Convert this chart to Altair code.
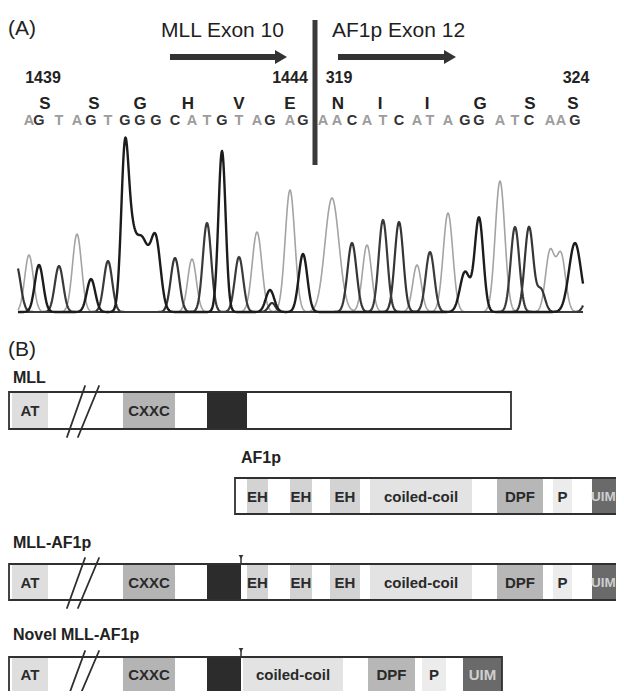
import altair as alt
import numpy as np
import pandas as pd

# ---------------- Panel A data ----------------
bases_left = list("AGTAGTGGGCATGTAGAG")
bases_right = list("AACATCATAGGATCAAG")
base_pos_left = [29, 39, 59, 77, 91, 108, 125, 140, 156, 175, 192, 207, 222, 239, 257, 270, 290, 303]
base_pos_right = [323, 337, 352, 367, 383, 399, 417, 430, 448, 465, 479, 500, 515, 529, 550, 561, 575]

aa_left = ["S", "S", "G", "H", "V", "E"]
aa_left_pos = [45, 94, 140, 188, 239, 290]
aa_right = ["N", "I", "I", "G", "S", "S"]
aa_right_pos = [338, 380, 427, 480, 530, 573]

residue_numbers = ["1439", "1444", "319", "324"]
residue_pos = [43, 290, 339, 576]

exon_titles = ["MLL Exon 10", "AF1p Exon 12"]
exon_title_x = [161, 332]
exon_arrow_start = [170, 338]
exon_arrow_end = [277, 446]
exon_arrow_head = [281, 450]

# chromatogram peaks per dye channel: centre, height (signal), width
peaks_A = [29, 77, 192, 257, 290, 332, 367, 417, 448, 500, 550, 561]
heights_A = [57, 78, 53, 80, 122, 114, 67, 47, 99, 131, 60, 57]
widths_A = [4.3, 4.5, 4.3, 4.8, 4.8, 7.0, 4.5, 4.3, 4.8, 4.8, 4.5, 4.5]

peaks_T = [59, 108, 207, 239, 383, 430, 515, 590]
heights_T = [46, 51, 89, 55, 92, 60, 85, 22]
widths_T = [4.2, 4.2, 4.2, 4.2, 4.3, 4.3, 4.3, 4.5]

peaks_G = [39, 91, 125, 132, 141, 156, 222, 270, 303, 465, 479, 575]
heights_G = [47, 33, 159, 30, 75, 64, 161, 22, 58, 40, 94, 69]
widths_G = [4.2, 4.2, 3.8, 3.5, 8.0, 4.8, 3.6, 4.2, 4.3, 5.0, 4.3, 6.0]

peaks_C = [16, 175, 272, 352, 399, 529, 541]
heights_C = [48, 54, 9, 69, 90, 85, 22]
widths_C = [4.5, 4.3, 3.5, 4.5, 4.3, 4.3, 4.0]

trace_start, trace_end, trace_baseline = 18, 583, 312

# ---------------- Panel B data ----------------
protein_names = ["MLL", "AF1p", "MLL-AF1p", "Novel MLL-AF1p"]
protein_label_x = [13, 241, 13, 13]
protein_label_y = [383, 463, 548, 640]
bar_start = [9, 235, 9, 9]
bar_end = [511, 626, 626, 502]
bar_top = [392, 478, 564, 657]
bar_bottom = [429, 514, 600, 692]

mll_part = [("AT", "AT", 12, 48), ("CXXC", "CXXC", 123, 175)]
af1p_part = [("EH", "EH", 247, 268), ("EH", "EH", 290, 312), ("EH", "EH", 330, 360),
             ("coiled-coil", "coiled-coil", 370, 472), ("DPF", "DPF", 497, 543),
             ("P", "P", 553, 572), ("UIM", "UIM", 592, 626)]
domains = {
    "MLL": mll_part + [("PHD", "", 207, 247)],
    "AF1p": af1p_part,
    "MLL-AF1p": mll_part + [("PHD", "", 207, 241)] + af1p_part,
    "Novel MLL-AF1p": mll_part + [("PHD", "", 207, 241),
                                  ("coiled-coil", "coiled-coil", 243, 343),
                                  ("DPF", "DPF", 368, 415), ("P", "P", 422, 446),
                                  ("UIM", "UIM", 463, 502)],
}
breakpoint_x = {"MLL-AF1p": 241, "Novel MLL-AF1p": 241}
break_marks_x = [(67, 85), (78, 99)]

# ---------------- styles ----------------
fill_of = {"AT": "#dedede", "CXXC": "#b4b4b4", "PHD": "#2c2c2c", "EH": "#d3d3d3",
           "coiled-coil": "#e3e3e3", "DPF": "#b7b7b7", "P": "#ececec", "UIM": "#6a6a6a"}
text_of = {"UIM": "#cfcfcf"}
FONT = "Liberation Sans"

W, H = 608, 683
RIGHT_EDGE = 8 + W
xs = alt.Scale(domain=[8, 8 + W], nice=False, zero=False)
ys = alt.Scale(domain=[8, 8 + H], nice=False, zero=False, reverse=True)


def X(f):
    return alt.X(f"{f}:Q", scale=xs, axis=None)


def Y(f):
    return alt.Y(f"{f}:Q", scale=ys, axis=None)


def rules(df, color, width, cap="butt"):
    return alt.Chart(df).mark_rule(color=color, strokeWidth=width, strokeCap=cap).encode(
        x=X("x"), x2="x2:Q", y=Y("y"), y2="y2:Q")


def texts(df, size, weight="normal", align="center", color=None):
    kw = dict(font=FONT, fontSize=size, fontWeight=weight, align=align, baseline="alphabetic")
    if color is not None:
        kw["color"] = color
    enc = dict(x=X("x"), y=Y("y"), text="t:N")
    if color is None:
        enc["color"] = alt.Color("c:N", scale=None)
    return alt.Chart(df).mark_text(**kw).encode(**enc)


layers = []

# ---- chromatogram traces ----
xg = np.arange(trace_start, trace_end + 0.01, 0.5)
channels = [
    ("A", peaks_A, heights_A, widths_A, "#a3a3a3", 1.6),
    ("C", peaks_C, heights_C, widths_C, "#353535", 2.2),
    ("T", peaks_T, heights_T, widths_T, "#3a3a3a", 2.2),
    ("G", peaks_G, heights_G, widths_G, "#1c1c1c", 2.4),
]
for name, pk, hs, ws, col, sw in channels:
    sig = np.zeros_like(xg)
    for c, h, w in zip(pk, hs, ws):
        sig += h * np.exp(-((xg - c) ** 2) / (2 * w * w))
    df = pd.DataFrame({"x": xg, "y": trace_baseline - sig})
    layers.append(alt.Chart(df).mark_line(color=col, strokeWidth=sw, strokeJoin="round").encode(
        x=X("x"), y=Y("y")))

# ---- junction line ----
layers.append(rules(pd.DataFrame({"x": [315], "x2": [315], "y": [20], "y2": [165]}), "#3a3a3a", 5))

# ---- exon arrows ----
arrows = pd.DataFrame({"x": exon_arrow_start, "x2": exon_arrow_end, "y": [57, 57], "y2": [57, 57]})
layers.append(rules(arrows, "#333333", 6))
heads = pd.DataFrame({"x": exon_arrow_head, "y": [57, 57]})
layers.append(alt.Chart(heads).mark_point(shape="M -0.85 -1 L 0.85 0 L -0.85 1 Z", filled=True,
                                          size=200, color="#333333", opacity=1).encode(x=X("x"), y=Y("y")))

# ---- texts panel A ----
layers.append(texts(pd.DataFrame({"t": ["(A)", "(B)"], "x": [8, 8], "y": [35, 356]}), 21, color="#222222", align="left"))
layers.append(texts(pd.DataFrame({"t": exon_titles, "x": exon_title_x, "y": [37, 37]}), 21, color="#1e1e1e", align="left"))
layers.append(texts(pd.DataFrame({"t": residue_numbers, "x": residue_pos, "y": [83] * 4}), 16, "bold", color="#222222"))
layers.append(texts(pd.DataFrame({"t": aa_left + aa_right, "x": aa_left_pos + aa_right_pos, "y": [109] * 12}),
                    17, "bold", color="#222222"))
nts = bases_left + bases_right
layers.append(texts(pd.DataFrame({"t": nts, "x": base_pos_left + base_pos_right, "y": [125] * len(nts),
                                  "c": ["#9c9c9c" if b in "AT" else "#333333" for b in nts]}), 14.5, "bold"))

# ---- panel B ----
bars = pd.DataFrame({"x": bar_start, "x2": bar_end, "y": bar_top, "y2": bar_bottom})
layers.append(alt.Chart(bars).mark_rect(fill="white").encode(x=X("x"), x2="x2:Q", y=Y("y"), y2="y2:Q"))

drows, lrows, edge_rows = [], [], []
for i, pname in enumerate(protein_names):
    for kind, label, a, b in domains[pname]:
        drows.append({"x": a, "x2": b, "y": bar_top[i] + 1, "y2": bar_bottom[i] - 1, "fill": fill_of[kind]})
        if not label:
            continue
        row = {"t": label, "x": (a + b) / 2, "y": (bar_top[i] + bar_bottom[i]) / 2 + 5.5,
               "c": text_of.get(kind, "#2a2a2a")}
        if b > RIGHT_EDGE:
            # domain runs off the page edge: keep its label inside the visible part
            row.update({"x": a - 1, "y": (bar_top[i] + bar_bottom[i]) / 2 + 5})
            edge_rows.append(row)
        else:
            lrows.append(row)
layers.append(alt.Chart(pd.DataFrame(drows)).mark_rect().encode(
    x=X("x"), x2="x2:Q", y=Y("y"), y2="y2:Q", fill=alt.Fill("fill:N", scale=None)))
layers.append(alt.Chart(bars).mark_rect(fill=None, stroke="#303030", strokeWidth=1.8).encode(
    x=X("x"), x2="x2:Q", y=Y("y"), y2="y2:Q"))
layers.append(texts(pd.DataFrame(lrows), 15, "bold"))
if edge_rows:
    layers.append(texts(pd.DataFrame(edge_rows), 13.5, "bold", align="left"))

# break marks (//) on MLL-containing bars
srows = []
for i, pname in enumerate(protein_names):
    if pname == "AF1p":
        continue
    for lo, hi in break_marks_x:
        srows.append({"x": lo, "y": bar_bottom[i] + 8, "x2": hi, "y2": bar_top[i] - 6})
layers.append(rules(pd.DataFrame(srows), "#2e2e2e", 1.8, cap="round"))

# fusion breakpoint markers
mrows = [{"x": bx, "x2": bx, "y": bar_top[protein_names.index(p)] - 7, "y2": bar_top[protein_names.index(p)]}
         for p, bx in breakpoint_x.items()]
mdf = pd.DataFrame(mrows)
layers.append(rules(mdf, "#333333", 1.5))
layers.append(alt.Chart(mdf).mark_point(shape="triangle-down", filled=True, size=22, color="#333333",
                                        opacity=1).encode(x=X("x"), y=Y("y")))

# protein names
layers.append(texts(pd.DataFrame({"t": protein_names, "x": protein_label_x, "y": protein_label_y}),
                    16, "bold", color="#222222", align="left"))

chart = alt.layer(*layers).properties(
    width=W, height=H, autosize=alt.AutoSizeParams(type="none"), padding=0, background="white"
).configure_view(stroke=None)

chart.save("out.html", embed_options={"renderer": "svg", "actions": False})
